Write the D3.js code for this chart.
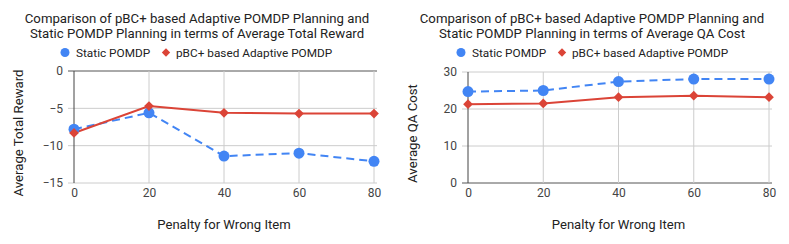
<!DOCTYPE html>
<html>
<head>
<meta charset="utf-8">
<script src="https://cdn.jsdelivr.net/npm/d3@7"></script>
<style>
  body { margin: 0; background: #fff; }
  svg text { font-family: Roboto, Arial, sans-serif; }
</style>
</head>
<body>
<div id="chart"></div>
<script>
// data
const penalties = [0, 20, 40, 60, 80];
const rewardStatic = [-7.8, -5.6, -11.4, -11.0, -12.1];
const rewardAdaptive = [-8.3, -4.7, -5.6, -5.7, -5.7];
const costStatic = [24.7, 25.0, 27.4, 28.1, 28.1];
const costAdaptive = [21.3, 21.5, 23.2, 23.6, 23.2];
const rewardTicks = [0, -5, -10, -15];
const costTicks = [0, 10, 20, 30];
const seriesNames = ['Static POMDP', 'pBC+ based Adaptive POMDP'];

const w = 789, h = 244;
const blue = '#4285f4', red = '#db4437';

const svg = d3.select('#chart')
	.append('svg')
	.attr('width', w)
	.attr('height', h);

// draws one panel
const drawPanel = (opt) => {
	const g = svg.append('g');

	const xScale = d3.scaleLinear()
		.domain([0, 80])
		.range([opt.x0, opt.x1]);
	const yScale = d3.scaleLinear()
		.domain(opt.yDomain)
		.range([opt.y1, opt.y0]);

	// title
	opt.title.forEach((t, i) => {
		g.append('text')
			.attr('x', opt.cx)
			.attr('y', 23 + i * 14.5)
			.attr('text-anchor', 'middle')
			.style('font-size', '13.2px')
			.attr('fill', '#222')
			.text(t);
	});

	// legend
	const leg = g.append('g');
	leg.append('circle')
		.attr('cx', opt.legX).attr('cy', 52.5).attr('r', 4.5)
		.attr('fill', blue);
	leg.append('text')
		.attr('x', opt.legX + 11).attr('y', 56.8)
		.style('font-size', '11.8px').attr('fill', '#222')
		.text(seriesNames[0]);
	leg.append('path')
		.attr('d', d3.symbol(d3.symbolDiamond2, 45)())
		.attr('transform', 'translate(' + (opt.legX + 101) + ',52.5)')
		.attr('fill', red);
	leg.append('text')
		.attr('x', opt.legX + 111).attr('y', 56.8)
		.style('font-size', '11.8px').attr('fill', '#222')
		.text(seriesNames[1]);

	// grid
	g.append('g')
		.selectAll('line.h')
		.data(opt.ticks)
		.enter()
		.append('line')
		.attr('x1', opt.x0 - 6).attr('x2', opt.x1 + 3)
		.attr('y1', (d) => yScale(d)).attr('y2', (d) => yScale(d))
		.attr('stroke', (d) => d === 0 ? '#555' : '#ccc')
		.attr('stroke-width', 1);
	g.append('g')
		.selectAll('line.v')
		.data(penalties)
		.enter()
		.append('line')
		.attr('x1', (d) => xScale(d)).attr('x2', (d) => xScale(d))
		.attr('y1', opt.y0).attr('y2', opt.y1)
		.attr('stroke', (d) => d === 0 ? '#444' : '#ccc')
		.attr('stroke-width', 1);

	// axes (labels only)
	const yAxis = d3.axisLeft(yScale).tickValues(opt.ticks).tickSize(0).tickPadding(11);
	g.append('g')
		.attr('transform', 'translate(' + opt.x0 + ',0)')
		.call(yAxis)
		.call((a) => a.select('.domain').remove())
		.selectAll('text')
		.style('font-size', '12px')
		.style('font-family', 'Roboto, Arial, sans-serif')
		.attr('fill', '#444');
	const xAxis = d3.axisBottom(xScale).tickValues(penalties).tickSize(0).tickPadding(5);
	g.append('g')
		.attr('transform', 'translate(0,' + opt.y1 + ')')
		.call(xAxis)
		.call((a) => a.select('.domain').remove())
		.selectAll('text')
		.style('font-size', '12px')
		.style('font-family', 'Roboto, Arial, sans-serif')
		.attr('fill', '#444');

	// axis titles
	g.append('text')
		.attr('x', (opt.x0 + opt.x1) / 2)
		.attr('y', 229)
		.attr('text-anchor', 'middle')
		.style('font-size', '13.1px').attr('fill', '#222')
		.text('Penalty for Wrong Item');
	g.append('text')
		.attr('transform', 'translate(' + (opt.x0 - 51) + ',' + ((opt.y0 + opt.y1) / 2 + 6) + ') rotate(-90)')
		.attr('text-anchor', 'middle')
		.style('font-size', '13.2px').attr('fill', '#222')
		.text(opt.yTitle);

	// lines
	const line = d3.line()
		.x((d, i) => xScale(penalties[i]))
		.y((d) => yScale(d));
	g.append('path')
		.attr('d', line(opt.staticVals))
		.attr('fill', 'none')
		.attr('stroke', blue)
		.attr('stroke-width', 2)
		.attr('stroke-dasharray', '8,5');
	g.append('path')
		.attr('d', line(opt.adaptiveVals))
		.attr('fill', 'none')
		.attr('stroke', red)
		.attr('stroke-width', 2);

	// markers
	g.append('g')
		.selectAll('circle')
		.data(opt.staticVals)
		.enter()
		.append('circle')
		.attr('cx', (d, i) => xScale(penalties[i]))
		.attr('cy', (d) => yScale(d))
		.attr('r', 5.5)
		.attr('fill', blue);
	g.append('g')
		.selectAll('path')
		.data(opt.adaptiveVals)
		.enter()
		.append('path')
		.attr('d', d3.symbol(d3.symbolDiamond2, 60)())
		.attr('transform', (d, i) => 'translate(' + xScale(penalties[i]) + ',' + yScale(d) + ')')
		.attr('fill', red);
};

drawPanel({
	x0: 74, x1: 374, y0: 71, y1: 183, cx: 197, legX: 65,
	yDomain: [-15, 0], ticks: rewardTicks,
	title: ['Comparison of pBC+ based Adaptive POMDP Planning and', 'Static POMDP Planning in terms of Average Total Reward'],
	yTitle: 'Average Total Reward',
	staticVals: rewardStatic, adaptiveVals: rewardAdaptive
});

drawPanel({
	x0: 468, x1: 769, y0: 72, y1: 183, cx: 592, legX: 461,
	yDomain: [0, 30], ticks: costTicks,
	title: ['Comparison of pBC+ based Adaptive POMDP Planning and', 'Static POMDP Planning in terms of Average QA Cost'],
	yTitle: 'Average QA Cost',
	staticVals: costStatic, adaptiveVals: costAdaptive
});
</script>
</body>
</html>
